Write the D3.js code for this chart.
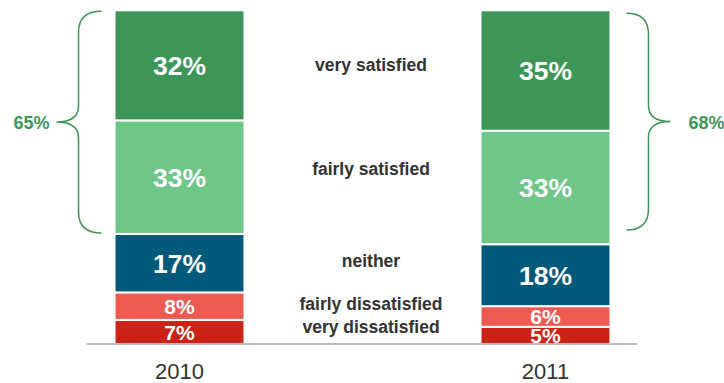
<!DOCTYPE html>
<html>
<head>
<meta charset="utf-8">
<script src="https://cdn.jsdelivr.net/npm/d3@7"></script>
<style>
  html, body { margin: 0; padding: 0; background: #fff; }
  svg { display: block; font-family: "Liberation Sans", Arial, Helvetica, sans-serif; }
</style>
</head>
<body>
<svg id="chart" width="724" height="383"></svg>
<script>
// Survey results: share of respondents by satisfaction level, per year
const years = ["2010", "2011"];
const categories = ["very dissatisfied", "fairly dissatisfied", "neither", "fairly satisfied", "very satisfied"];
const values2010 = [7, 8, 17, 33, 32];
const values2011 = [5, 6, 18, 33, 35];
const satisfiedTotals = [65, 68];
const colors = ["#cc2317", "#ee5a52", "#02597a", "#6ec688", "#3d9658"];

// Vertical centre of each category caption in the middle column (px)
const captionY = [327, 304, 261, 169, 65];

const svg = d3.select("#chart");

const rows = years.map((y, i) => {
  const src = i === 0 ? values2010 : values2011;
  const r = { year: y };
  categories.forEach((c, k) => r[c] = src[k]);
  return r;
});

const x = d3.scaleBand().domain(years).range([-3.5, 728.5]).paddingInner(0.645).paddingOuter(0.3225);
const y = d3.scaleLinear().domain([0, 100]).range([344, 0]);

const series = d3.stack().keys(categories)(rows);
const labelSize = v => v < 10 ? 21 : 26.5;

// stacked segments
const g = svg.append("g");
series.forEach((s, k) => {
  g.selectAll(null).data(s).enter().append("rect")
    .attr("x", d => x(d.data.year))
    .attr("y", d => y(d[1]))
    .attr("width", x.bandwidth())
    .attr("height", d => y(d[0]) - y(d[1]))
    .attr("fill", colors[k])
    .attr("stroke", "#fff")
    .attr("stroke-width", 2);
});

// value labels inside the segments
series.forEach((s, k) => {
  g.selectAll(null).data(s).enter().append("text")
    .attr("x", d => x(d.data.year) + x.bandwidth() / 2)
    .attr("y", d => y((d[0] + d[1]) / 2) + labelSize(d[1] - d[0]) * 0.36)
    .attr("text-anchor", "middle")
    .attr("fill", "#fff")
    .attr("font-weight", "bold")
    .attr("font-size", d => labelSize(d[1] - d[0]))
    .text(d => (d[1] - d[0]) + "%");
});

// baseline
const x0 = x(years[0]), x1 = x(years[1]) + x.bandwidth();
svg.append("line")
  .attr("x1", x0 - 28).attr("x2", x1 + 27)
  .attr("y1", y(0)).attr("y2", y(0))
  .attr("stroke", "#7a7a7a").attr("stroke-width", 1.2);

// year labels
svg.selectAll(null).data(years).enter().append("text")
  .attr("x", d => x(d) + x.bandwidth() / 2)
  .attr("y", 379)
  .attr("text-anchor", "middle")
  .attr("fill", "#333")
  .attr("font-size", 22)
  .text(d => d);

// category captions
svg.selectAll(null).data(categories).enter().append("text")
  .attr("x", 371)
  .attr("y", (d, i) => captionY[i] + 6)
  .attr("text-anchor", "middle")
  .attr("fill", "#333")
  .attr("font-weight", "bold")
  .attr("font-size", 17.5)
  .text(d => d);

// curly braces summarising the satisfied share
function brace(xe, xv, xt, y0, y1, r) {
  const ym = (y0 + y1) / 2, tr = 16;
  return `M${xe},${y0} Q${xv},${y0} ${xv},${y0 + r} L${xv},${ym - tr} Q${xv},${ym} ${xt},${ym}` +
         ` Q${xv},${ym} ${xv},${ym + tr} L${xv},${y1 - r} Q${xv},${y1} ${xe},${y1}`;
}
const satTop = y(97), satBottom2010 = y(32);
const green = "#3d9658";

svg.append("path")
  .attr("d", brace(x0 - 13, x0 - 36, x0 - 58, satTop + 1, satBottom2010 - 1, 21))
  .attr("fill", "none").attr("stroke", green).attr("stroke-width", 1.5);
svg.append("path")
  .attr("d", brace(x1 + 16, x1 + 38, x1 + 60, satTop + 3, satBottom2010 - 4, 21))
  .attr("fill", "none").attr("stroke", green).attr("stroke-width", 1.5);

svg.append("text")
  .attr("x", x0 - 65).attr("y", (satTop + satBottom2010) / 2 + 6.5)
  .attr("text-anchor", "end").attr("fill", green)
  .attr("font-weight", "bold").attr("font-size", 18)
  .text(satisfiedTotals[0] + "%");
svg.append("text")
  .attr("x", x1 + 78).attr("y", (satTop + satBottom2010) / 2 + 6.5)
  .attr("text-anchor", "start").attr("fill", green)
  .attr("font-weight", "bold").attr("font-size", 18)
  .text(satisfiedTotals[1] + "%");
</script>
</body>
</html>
